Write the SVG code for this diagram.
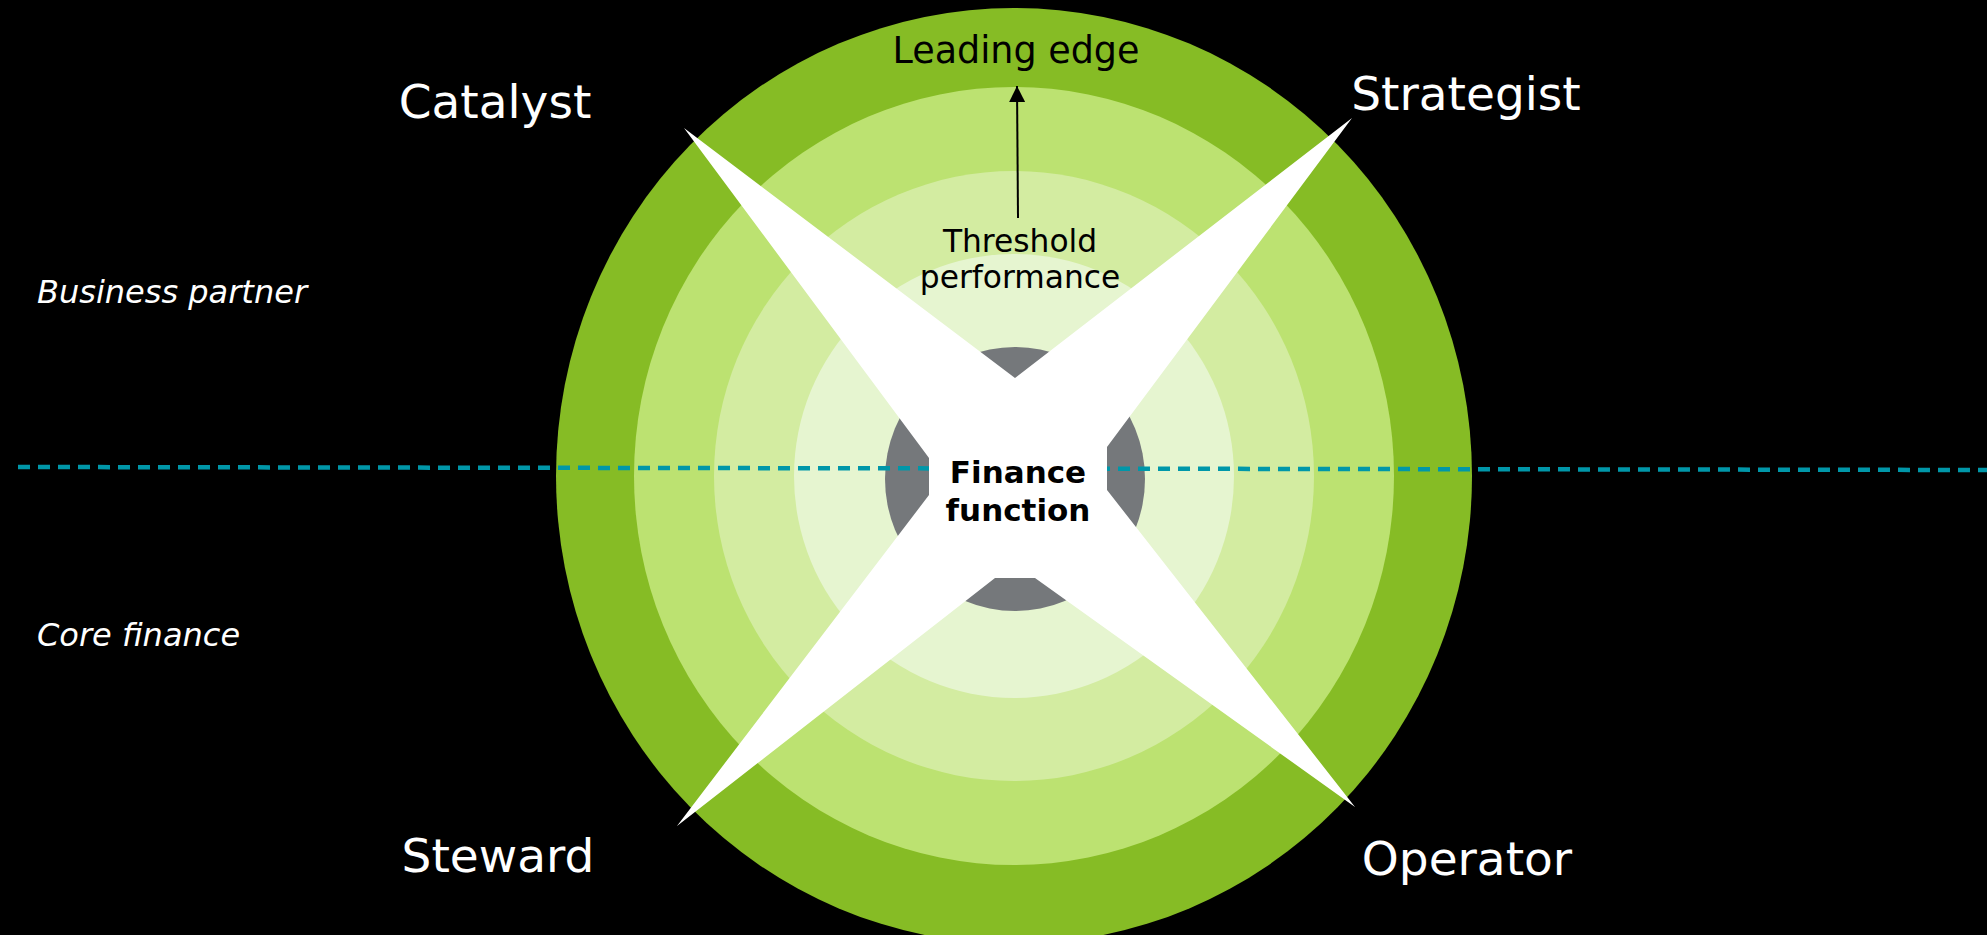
<svg xmlns="http://www.w3.org/2000/svg" width="1987" height="935" viewBox="0 0 1987 935">
<defs>
<style>
.t{font-family:"DejaVu Sans","Verdana",sans-serif;}
.w{fill:#ffffff;font-size:47px;text-anchor:middle;}
.k{fill:#000000;text-anchor:middle;}
.i{fill:#ffffff;font-size:32px;font-style:italic;}
</style>
<marker id="ah" markerUnits="userSpaceOnUse" markerWidth="18" markerHeight="16" refX="16" refY="8" orient="auto">
<path d="M0,0 L16,8 L0,16 Z" fill="#000000"/>
</marker>
</defs>
<rect x="0" y="0" width="1987" height="935" fill="#000000"/>
<g id="rings">
<ellipse cx="1014" cy="476" rx="458" ry="468" fill="#86BC25"/>
<ellipse cx="1014" cy="476" rx="380" ry="389" fill="#BCE271"/>
<ellipse cx="1014" cy="476" rx="300" ry="305" fill="#D3ECA1"/>
<ellipse cx="1014" cy="476" rx="220" ry="222" fill="#E6F5D0"/>
<ellipse cx="1015" cy="479" rx="130" ry="132" fill="#75787B"/>
</g>
<g id="divider">
<line x1="18" y1="467" x2="1987" y2="470" stroke="#0097A9" stroke-width="4.5" stroke-dasharray="12 8"/>
</g>
<g id="star">
<path d="M684,128 L1015,378 L1352,118 L1107,447 L1107,490 L1355,807 L1035,578 L995,578 L677,826 L929,495 L929,458 Z" fill="#ffffff"/>
</g>
<g id="connectors">
<line x1="1018" y1="218" x2="1017" y2="86" stroke="#000000" stroke-width="2" marker-end="url(#ah)"/>
</g>
<g id="leading-edge"><text class="t k" x="1016" y="63" font-size="36.5">Leading edge</text></g>
<g id="threshold"><text class="t k" font-size="31.3"><tspan x="1020" y="252">Threshold</tspan><tspan x="1020" y="288">performance</tspan></text></g>
<g id="finance-function"><text class="t k" font-size="31" font-weight="bold"><tspan x="1018" y="483">Finance</tspan><tspan x="1018" y="521">function</tspan></text></g>
<g id="catalyst"><text class="t w" x="495" y="118">Catalyst</text></g>
<g id="strategist"><text class="t w" x="1466" y="110">Strategist</text></g>
<g id="steward"><text class="t w" x="498" y="872">Steward</text></g>
<g id="operator"><text class="t w" x="1467" y="875">Operator</text></g>
<g id="business-partner"><text class="t i" x="37" y="303">Business partner</text></g>
<g id="core-finance"><text class="t i" x="37" y="646">Core finance</text></g>
</svg>
